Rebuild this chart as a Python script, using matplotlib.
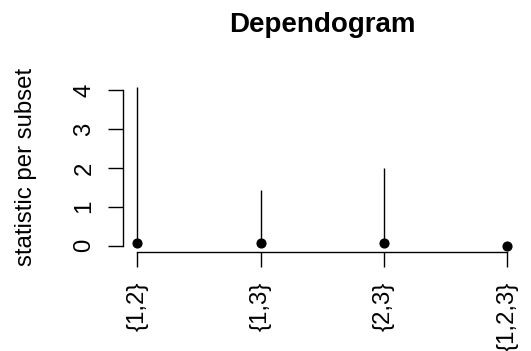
import matplotlib
matplotlib.use('Agg')
import matplotlib.pyplot as plt

# 数据
subsets = ['{1,2}', '{1,3}', '{2,3}', '{1,2,3}']
statistic = [4.07, 1.43, 1.99, 0.0]
critical = [0.08, 0.08, 0.08, 0.0]

plt.rcParams['font.family'] = ['Liberation Sans', 'DejaVu Sans']

fig = plt.figure(figsize=(5.31, 3.51), dpi=100)
ax = fig.add_axes([0.231, 0.282, 0.752, 0.487])

x = list(range(1, len(subsets) + 1))
ax.vlines(x, 0, statistic, color='black', linewidth=1.0)
ax.plot(x, critical, 'o', color='black', markersize=6.3, linestyle='none')

# R风格坐标轴
ax.set_xlim(0.88, 4.12)
ax.set_ylim(-0.163, 4.23)
for s in ['top', 'right']:
    ax.spines[s].set_visible(False)
ax.spines['left'].set_bounds(0, 4)
ax.spines['bottom'].set_bounds(1, 4)
ax.spines['left'].set_linewidth(1.0)
ax.spines['bottom'].set_linewidth(1.0)

ax.set_xticks(x)
ax.set_xticklabels(subsets, rotation=90, fontsize=17.3)
ax.set_yticks([0, 1, 2, 3, 4])
ax.set_yticklabels(['0', '1', '2', '3', '4'], rotation=90, va='center', fontsize=17.3)
ax.tick_params(direction='out', length=10.6, width=1.0)
ax.tick_params(axis='x', pad=10.8)
ax.tick_params(axis='y', pad=9)

fig.text(26 / 531, 0.525, 'statistic per subset', rotation=90, fontsize=17.3,
         ha='center', va='center')
fig.text(0.607, 1 - 31.7 / 351, 'Dependogram', fontsize=20, fontweight='bold',
         ha='center', va='baseline')

plt.savefig('out.png', dpi=100)
